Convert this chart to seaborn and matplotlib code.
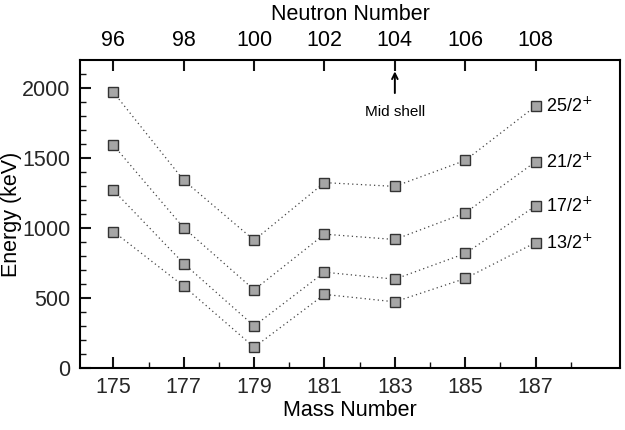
import numpy as np
import pandas as pd
import matplotlib
matplotlib.use("Agg")
import matplotlib.pyplot as plt
import seaborn as sns

# mass numbers and level energies (keV)
mass = [175, 177, 179, 181, 183, 185, 187]
e_13_2 = [974, 583, 146, 524, 471, 638, 895]
e_17_2 = [1269, 745, 298, 683, 633, 817, 1157]
e_21_2 = [1592, 1000, 557, 955, 917, 1107, 1474]
e_25_2 = [1971, 1340, 912, 1324, 1297, 1483, 1871]
levels = ["13/2", "17/2", "21/2", "25/2"]
neutron_ticks = [96, 98, 100, 102, 104, 106, 108]

sns.set_style("ticks", {"axes.edgecolor": "black", "text.color": "black",
                        "axes.labelcolor": "black"})
plt.rcParams['font.family'] = ['Liberation Sans', 'DejaVu Sans']

df = pd.DataFrame({
    "Mass": mass * 4,
    "Energy": e_13_2 + e_17_2 + e_21_2 + e_25_2,
    "Level": [l for l in levels for _ in mass],
})

fig = plt.figure(figsize=(6.25, 4.3), dpi=100)
ax = fig.add_axes([0.128, 0.145, 0.864, 0.715])

for lev in levels:
    sub = df[df["Level"] == lev]
    sns.lineplot(x="Mass", y="Energy", data=sub, ax=ax, color="#444444",
                 linestyle=(0, (1, 2.5)), linewidth=0.9, marker="s",
                 markersize=7, markerfacecolor="#a6a6a6",
                 markeredgecolor="#333333", markeredgewidth=1.0)
    last = sub.iloc[-1]
    ax.text(187.3, last["Energy"], lev + r"$^{+}$", fontsize=13,
            va="center", ha="left")

ax.set_xlim(174.05, 189.4)
ax.set_ylim(0, 2200)
ax.set_xticks(mass)
ax.set_xticks([176, 178, 180, 182, 184, 186, 188], minor=True)
ax.set_yticks([0, 500, 1000, 1500, 2000])
ax.set_yticks(np.arange(100, 2200, 100), minor=True)
ax.tick_params(axis="both", which="major", direction="in", length=8,
               width=1.5, labelsize=15.5, pad=7, color="#111111")
ax.tick_params(axis="both", which="minor", direction="in", length=4,
               width=1.0, color="#111111")
# top ticks (major only) on the same axes
ax.tick_params(axis="x", which="major", top=True, labeltop=False)
for s in ax.spines.values():
    s.set_linewidth(1.5)

ax.set_xlabel("Mass Number", fontsize=15.5, labelpad=1)
ax.set_ylabel("Energy (keV)", fontsize=15.5, labelpad=0)

# neutron number labels on top (N = A - 79), placed at the mass positions
for a, n in zip(mass, neutron_ticks):
    ax.text(a, 1.03, str(n), transform=ax.get_xaxis_transform(),
            ha="center", va="bottom", fontsize=15.5)
ax.text(0.5, 1.115, "Neutron Number", transform=ax.transAxes,
        ha="center", va="bottom", fontsize=15.5)

ax.annotate("", xy=(183, 2140), xytext=(183, 1945),
            arrowprops=dict(arrowstyle="->", color="black", lw=1.4))
ax.text(183, 1830, "Mid shell", fontsize=11, ha="center", va="center")

fig.savefig("out.png", dpi=100)
